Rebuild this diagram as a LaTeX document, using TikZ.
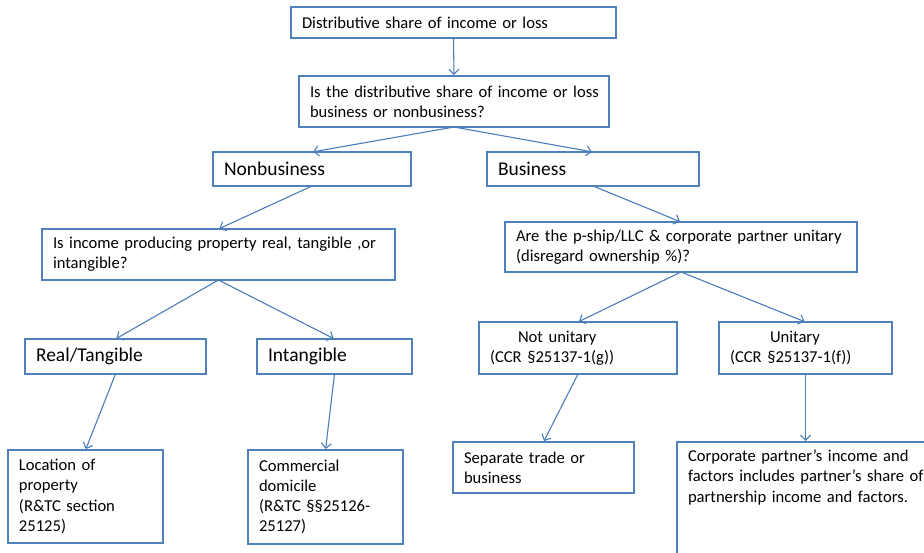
\documentclass[tikz,border=0pt]{standalone}
\usepackage{fontspec}
\setmainfont{Carlito}
\usetikzlibrary{arrows.meta}

\definecolor{boxBlue}{RGB}{79,129,189}
\definecolor{linkBlue}{RGB}{74,126,187}

\newcommand{\flowText}{\fontsize{16.6}{20.2}\selectfont}
\newcommand{\flowLarge}{\fontsize{19.5}{23}\selectfont}

\begin{document}
\begin{tikzpicture}[x=1pt, y=-1pt]

% ---------------- styles ----------------
\tikzset{
  flowBox/.style 2 args ={draw=boxBlue, line width=2.7pt, fill=white,
                          anchor=north west, outer sep=0pt,
                          inner xsep=11pt, inner ysep=0pt, align=left,
                          font=\flowText, text width=#1, minimum height=#2,
                          execute at begin node={\hyphenpenalty=10000}},
  flowBig/.style 2 args ={flowBox={#1}{#2}, font=\flowLarge},
  flowLink/.style        ={draw=linkBlue, line width=1.1pt, shorten >=1pt,
                          -{Straight Barb[length=5pt, width=10pt]}}
}

% ---------------- page (reference size in px) ----------------
\useasboundingbox (0,0) rectangle (924,552);
\clip (0,0) rectangle (924,552);

% ---------------- top of the tree ----------------
\node[flowBox={303pt}{31pt}] (share) at (291,7)
  {Distributive share of income or loss};
\node[flowBox={288pt}{51pt}, inner xsep=11pt] (quest) at (299,76)
  {\mbox{Is the distributive share of income or loss}\\business or nonbusiness?};

\node[flowBig={176pt}{34pt}] (nonbus) at (213,152) {Nonbusiness};
\node[flowBig={190pt}{34pt}] (bus)    at (487,152) {Business};

% ---------------- nonbusiness branch ----------------
\node[flowBox={331pt}{51pt}] (income) at (42,229)
  {\mbox{Is income producing property real, tangible ,or}\\intangible?};

\node[flowBig={159pt}{35pt}] (realt)  at (25,339)  {Real/Tangible};
\node[flowBig={133pt}{35pt}] (intang) at (257,339) {Intangible};

\node[flowBox={133pt}{93pt}] (loc)  at (8,450)
  {Location of\\property\\(R\&TC section\\25125)};
\node[flowBox={133pt}{94pt}] (comm) at (248,450)
  {Commercial\\domicile\\(R\&TC §§25126-\\25127)};

% ---------------- business branch ----------------
\node[flowBox={330pt}{50pt}] (pship) at (505,222)
  {\mbox{Are the p-ship/LLC \& corporate partner unitary}\\(disregard ownership \%)?};

\node[flowBox={176pt}{52pt}] (notu) at (479,322)
  {\hspace*{28pt}Not unitary\\(CCR §25137-1(g))};
\node[flowBox={151pt}{52pt}] (unit) at (719,322)
  {\hspace*{40pt}Unitary\\(CCR §25137-1(f))};

\node[flowBox={159pt}{51pt}] (sep) at (453,442)
  {Separate trade or\\business};
% box runs off the page, text sits at its top
\node[flowBox={258pt}{0pt}, inner ysep=8pt, text depth=120pt] (corp) at (677,442)
  {Corporate partner’s income and\\\mbox{factors includes partner’s share of}\\partnership income and factors.};

% ---------------- connectors ----------------
\draw[flowLink] (share.south)  -- (quest.north);
\draw[flowLink] (quest.south)  -- (nonbus.north);
\draw[flowLink] (quest.south)  -- (bus.north);
\draw[flowLink] (nonbus.south) -- (income.north);
\draw[flowLink] (bus.south)    -- (pship.north);
\draw[flowLink] (income.south) -- (realt.north);
\draw[flowLink] (income.south) -- (intang.north);
\draw[flowLink] (realt.south)  -- (loc.north);
\draw[flowLink] (intang.south) -- (comm.north);
\draw[flowLink] (pship.south)  -- (notu.north);
\draw[flowLink] (pship.south)  -- (unit.north);
\draw[flowLink] (notu.south)   -- (sep.north);
\draw[flowLink] (unit.south)   -- (unit.south |- corp.north);

\end{tikzpicture}
\end{document}
